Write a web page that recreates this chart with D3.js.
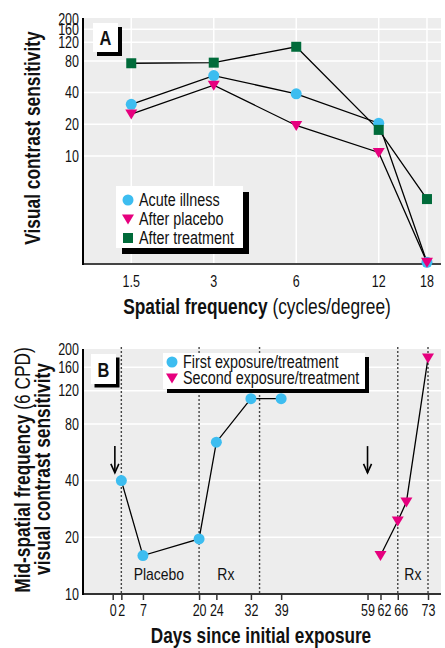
<!DOCTYPE html>
<html lang="en">
<head>
<meta charset="utf-8">
<title>Contrast sensitivity</title>
<script src="https://cdn.jsdelivr.net/npm/d3@7"></script>
<style>
  body { margin: 0; background: #fff; }
  svg text { font-family: "Liberation Sans", Arial, sans-serif; fill: #111; }
</style>
</head>
<body>
<svg id="chart" width="445" height="648"></svg>
<script>
// ---- panel A data
var freqTicks = [1.5, 3, 6, 12, 18];
var yTicksA = [10, 20, 40, 80, 120, 160, 200];
var acuteIllness   = [31, 58, 39, 20.5, 0.98];
var afterPlacebo   = [25, 47, 19.5, 10.8, 0.98];
var afterTreatment = [76, 77, 109, 17.7, 3.9];
var legendA = ["Acute illness", "After placebo", "After treatment"];

// ---- panel B data
var dayTicks = [0, 2, 7, 20, 24, 32, 39, 59, 62, 66, 73];
var yTicksB = [10, 20, 40, 80, 120, 160, 200];
var firstDays   = [2, 7, 20, 24, 32, 39];
var firstValues = [40, 16, 19.6, 64, 109, 109];
var secondDays   = [62, 66, 68, 73];
var secondValues = [16, 24.4, 30.8, 179];
var dottedDays = [2, 20, 34, 66, 73];
var arrowDays = [0.5, 59];
var phaseLabels = ["Placebo", "Rx", "Rx"];
var phaseDays = [10.7, 26.2, 69.5];
var legendB = ["First exposure/treatment", "Second exposure/treatment"];

var BLUE = "#3dbdf0", PINK = "#e6007e", GREEN = "#006b3a", BG = "#ededed";

var svg = d3.select("#chart");

function marker(sel, kind) {
  if (kind === "circle") sel.append("circle").attr("r", 5.5).attr("fill", BLUE);
  else if (kind === "square") sel.append("rect").attr("x", -5).attr("y", -5).attr("width", 10).attr("height", 10).attr("fill", GREEN);
  else sel.append("path").attr("d", "M-6,-4.5L6,-4.5L0,5.5Z").attr("fill", PINK);
}
function shadowBox(g, x, y, w, h, off) {
  g.append("rect").attr("x", x + off).attr("y", y + off).attr("width", w).attr("height", h).attr("fill", "#000");
  g.append("rect").attr("x", x).attr("y", y).attr("width", w).attr("height", h).attr("fill", "#fff");
}
// no condensed font installed: squeeze each text horizontally
function narrow(k) {
  svg.selectAll("text").each(function() {
    this.style.fontFamily = "'Liberation Sans', Arial, sans-serif";
    var f = this.getAttribute("data-squeeze") ? +this.getAttribute("data-squeeze") : k;
    var L = this.getComputedTextLength();
    this.setAttribute("textLength", L * f);
    this.setAttribute("lengthAdjust", "spacingAndGlyphs");
  });
}

//////////////////////////////////////
// Panel A
var xA = d3.scaleLog().domain([1, 20.25]).range([83, 441]);
var yA = d3.scaleLog().domain([0.943, 200]).range([264, 19]);
var gA = svg.append("g");

gA.append("rect").attr("x", 83).attr("y", 18).attr("width", 358).attr("height", 246).attr("fill", BG);
gA.selectAll(".vgrid").data(freqTicks).enter().append("line")
  .attr("x1", d => xA(d)).attr("x2", d => xA(d)).attr("y1", 18).attr("y2", 264)
  .attr("stroke", "#fff").attr("stroke-width", 1.5);
gA.selectAll(".hgrid").data(yTicksA.filter(d => d < 200)).enter().append("line")
  .attr("x1", 83).attr("x2", 441).attr("y1", d => yA(d)).attr("y2", d => yA(d))
  .attr("stroke", "#fff").attr("stroke-width", 1.5);

gA.append("line").attr("x1", 83).attr("x2", 441).attr("y1", 264).attr("y2", 264).attr("stroke", "#444").attr("stroke-width", 2);
gA.append("line").attr("x1", 83).attr("x2", 83).attr("y1", 18).attr("y2", 265).attr("stroke", "#000").attr("stroke-width", 2);

gA.selectAll(".ytA").data(yTicksA).enter().append("text")
  .attr("x", 79).attr("y", d => yA(d)).attr("dy", "0.35em").attr("text-anchor", "end")
  .attr("font-size", 16).attr("data-squeeze", 0.78).text(d => d);
gA.selectAll(".xtA").data(freqTicks).enter().append("text")
  .attr("x", d => xA(d)).attr("y", 287).attr("text-anchor", "middle")
  .attr("font-size", 16).attr("data-squeeze", 0.78).text(d => d);

var seriesA = [
  { vals: acuteIllness, kind: "circle" },
  { vals: afterPlacebo, kind: "tri" },
  { vals: afterTreatment, kind: "square" }
];
var lineA = d3.line().x((d, i) => xA(freqTicks[i])).y(d => yA(d));
seriesA.forEach(function(s) {
  gA.append("path").attr("d", lineA(s.vals)).attr("fill", "none").attr("stroke", "#000").attr("stroke-width", 1.3);
});
seriesA.forEach(function(s) {
  s.vals.forEach(function(v, i) {
    var m = gA.append("g").attr("transform", "translate(" + xA(freqTicks[i]) + "," + yA(v) + ")");
    marker(m, s.kind);
  });
});

// A label box
shadowBox(gA, 93, 23, 25, 29, 4);
gA.append("text").attr("x", 105.5).attr("y", 44.5).attr("text-anchor", "middle")
  .attr("font-size", 20).attr("font-weight", "bold").text("A");

// legend A
shadowBox(gA, 116, 186, 127, 62, 6);
legendA.forEach(function(t, i) {
  var yy = 200 + i * 19;
  var m = gA.append("g").attr("transform", "translate(128," + yy + ")");
  marker(m, seriesA[i].kind);
  gA.append("text").attr("x", 139).attr("y", yy).attr("dy", "0.35em").attr("font-size", 17.5).text(t);
});

// axis titles A
var tA = gA.append("text").attr("x", 257).attr("y", 314).attr("text-anchor", "middle")
  .attr("font-size", 22.5).attr("data-squeeze", 0.77);
tA.append("tspan").attr("font-weight", "bold").text("Spatial frequency");
tA.append("tspan").text(" (cycles/degree)");
gA.append("text").attr("transform", "translate(40,138) rotate(-90)").attr("text-anchor", "middle")
  .attr("font-size", 22.5).attr("data-squeeze", 0.77).attr("font-weight", "bold").text("Visual contrast sensitivity");

//////////////////////////////////////
// Panel B
var xB = d3.scaleLinear().domain([0, 73]).range([112.7, 428]);
var yB = d3.scaleLog().domain([10, 200]).range([594, 349]);
var gB = svg.append("g");

gB.append("rect").attr("x", 83).attr("y", 349).attr("width", 358).attr("height", 245).attr("fill", BG);
gB.selectAll(".hgridB").data(yTicksB.filter(d => d > 10 && d < 200)).enter().append("line")
  .attr("x1", 83).attr("x2", 441).attr("y1", d => yB(d)).attr("y2", d => yB(d))
  .attr("stroke", "#fff").attr("stroke-width", 1.5);

gB.selectAll(".dotted").data(dottedDays).enter().append("line")
  .attr("x1", d => xB(d)).attr("x2", d => xB(d)).attr("y1", 347).attr("y2", 594)
  .attr("stroke", "#444").attr("stroke-width", 1.4).attr("stroke-dasharray", "2,2");

var xAxisB = d3.axisBottom(xB).tickValues(dayTicks).tickSize(6).tickFormat(d => d);
var axB = gB.append("g").attr("transform", "translate(0,594)").call(xAxisB);
axB.select(".domain").attr("d", "M83,0H441").attr("stroke", "#333").attr("stroke-width", 2);
axB.selectAll(".tick line").attr("stroke", "#333").attr("stroke-width", 1.5);
// crowded labels are nudged apart as in the print
axB.selectAll(".tick text").attr("y", 11).attr("font-size", 16).attr("fill", "#111")
  .attr("data-squeeze", 0.78)
  .attr("dx", d => d === 62 ? 3.5 : d === 66 ? 3 : 0);
gB.append("line").attr("x1", 83).attr("x2", 83).attr("y1", 349).attr("y2", 595).attr("stroke", "#000").attr("stroke-width", 2);

gB.selectAll(".ytB").data(yTicksB).enter().append("text")
  .attr("x", 79).attr("y", d => yB(d)).attr("dy", "0.35em").attr("text-anchor", "end")
  .attr("font-size", 16).attr("data-squeeze", 0.78).text(d => d);

var lineB = d3.line().x(d => xB(d[0])).y(d => yB(d[1]));
var firstPts = firstDays.map((d, i) => [d, firstValues[i]]);
var secondPts = secondDays.map((d, i) => [d, secondValues[i]]);
[firstPts, secondPts].forEach(function(p) {
  gB.append("path").attr("d", lineB(p)).attr("fill", "none").attr("stroke", "#000").attr("stroke-width", 1.3);
});
firstPts.forEach(function(p) {
  marker(gB.append("g").attr("transform", "translate(" + xB(p[0]) + "," + yB(p[1]) + ")"), "circle");
});
secondPts.forEach(function(p) {
  marker(gB.append("g").attr("transform", "translate(" + xB(p[0]) + "," + yB(p[1]) + ")"), "tri");
});

// arrows
arrowDays.forEach(function(d) {
  var x = xB(d), y0 = yB(61), y1 = yB(44);
  gB.append("line").attr("x1", x).attr("x2", x).attr("y1", y0).attr("y2", y1).attr("stroke", "#000").attr("stroke-width", 1.6);
  gB.append("path").attr("d", "M" + (x - 4) + "," + (y1 - 9) + "L" + x + "," + y1 + "L" + (x + 4) + "," + (y1 - 9))
    .attr("fill", "none").attr("stroke", "#000").attr("stroke-width", 1.6);
});

// phase labels
phaseLabels.forEach(function(t, i) {
  gB.append("text").attr("x", xB(phaseDays[i])).attr("y", yB(12.7)).attr("dy", "0.35em")
    .attr("text-anchor", "middle").attr("font-size", 17).text(t);
});

// B label box
shadowBox(gB, 91, 354, 25, 30, 3.5);
gB.append("text").attr("x", 103.5).attr("y", 376.5).attr("text-anchor", "middle")
  .attr("font-size", 20).attr("font-weight", "bold").text("B");

// legend B
shadowBox(gB, 163, 353, 202, 36, 4);
legendB.forEach(function(t, i) {
  var yy = 362 + i * 16;
  marker(gB.append("g").attr("transform", "translate(172," + yy + ")"), i === 0 ? "circle" : "tri");
  gB.append("text").attr("x", 183).attr("y", yy).attr("dy", "0.35em").attr("font-size", 17.5).text(t);
});

// axis titles B
gB.append("text").attr("x", 261).attr("y", 643).attr("text-anchor", "middle")
  .attr("font-size", 22).attr("data-squeeze", 0.78).attr("font-weight", "bold").text("Days since initial exposure");
var yt1 = gB.append("text").attr("transform", "translate(30,470) rotate(-90)").attr("text-anchor", "middle")
  .attr("font-size", 22.5).attr("data-squeeze", 0.77);
yt1.append("tspan").attr("font-weight", "bold").text("Mid-spatial frequency");
yt1.append("tspan").text(" (6 CPD)");
gB.append("text").attr("transform", "translate(50,469) rotate(-90)").attr("text-anchor", "middle")
  .attr("font-size", 22.5).attr("data-squeeze", 0.77).attr("font-weight", "bold").text("visual contrast sensitivity");

narrow(0.82);
</script>
</body>
</html>
